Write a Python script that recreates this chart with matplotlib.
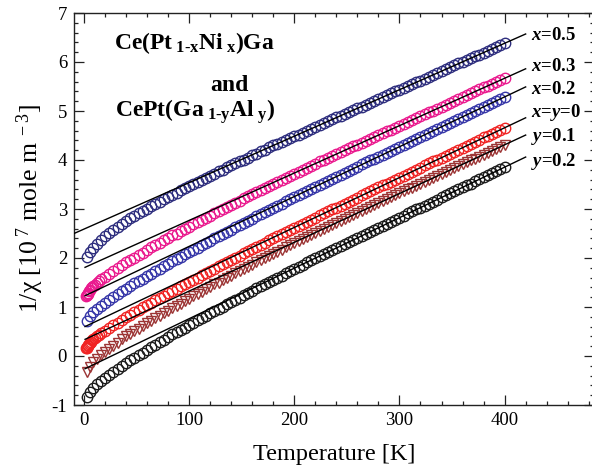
import numpy as np
import matplotlib
matplotlib.use("Agg")
import matplotlib.pyplot as plt
from matplotlib.ticker import MultipleLocator, FormatStrFormatter

plt.rcParams['font.family'] = ['Liberation Serif', 'DejaVu Serif']
plt.rcParams['mathtext.fontset'] = 'custom'
plt.rcParams['mathtext.rm'] = 'Liberation Serif'
plt.rcParams['mathtext.it'] = 'Liberation Serif:italic'
plt.rcParams['mathtext.bf'] = 'Liberation Serif:bold'
plt.rcParams['mathtext.bfit'] = 'Liberation Serif:italic:bold'
plt.rcParams['axes.unicode_minus'] = False

# ---------------- data ----------------
series_names = ["x=0.5", "x=0.3", "x=0.2", "x=y=0", "y=0.1", "y=0.2"]
series_labels = [r"$\mathbfit{x}$=0.5", r"$\mathbfit{x}$=0.3", r"$\mathbfit{x}$=0.2",
                 r"$\mathbfit{x}$=$\mathbfit{y}$=0", r"$\mathbfit{y}$=0.1", r"$\mathbfit{y}$=0.2"]
colors = ["#2e2e7e", "#ea1a8e", "#3636a8", "#f02424", "#9c3434", "#1c1c1c"]
markers = ["o", "o", "o", "o", "v", "o"]

# common temperature grid above 20 K
T_high = np.arange(20, 401, 4)

# low temperature points (K) for each series
T_low_sparse = [3, 6, 9, 12, 16]
T_low_dense = [2, 2.5, 3, 3.5, 4, 5, 6, 7, 8, 9, 10, 12, 14, 16]

x05_low = [2.03, 2.12, 2.21, 2.28, 2.37]
x05_high = [2.44, 2.51, 2.57, 2.64, 2.69, 2.75, 2.81, 2.86, 2.91, 2.96,
            3.01, 3.06, 3.11, 3.15, 3.20, 3.24, 3.29, 3.33, 3.38, 3.42,
            3.46, 3.51, 3.55, 3.60, 3.64, 3.68, 3.72, 3.77, 3.80, 3.85,
            3.89, 3.93, 3.97, 4.01, 4.05, 4.10, 4.13, 4.18, 4.21, 4.26,
            4.30, 4.33, 4.37, 4.41, 4.45, 4.49, 4.52, 4.56, 4.60, 4.64,
            4.68, 4.71, 4.75, 4.79, 4.83, 4.87, 4.90, 4.94, 4.98, 5.02,
            5.06, 5.09, 5.13, 5.17, 5.21, 5.24, 5.28, 5.32, 5.36, 5.40,
            5.43, 5.47, 5.51, 5.55, 5.59, 5.62, 5.66, 5.70, 5.74, 5.78,
            5.81, 5.85, 5.89, 5.93, 5.97, 6.00, 6.04, 6.08, 6.12, 6.15,
            6.19, 6.23, 6.27, 6.31, 6.34, 6.38]

x03_low = [1.22, 1.24, 1.25, 1.27, 1.29, 1.32, 1.35, 1.38, 1.40, 1.43, 1.45, 1.50, 1.53, 1.57]
x03_high = [1.62, 1.68, 1.74, 1.80, 1.85, 1.91, 1.96, 2.01, 2.06, 2.11,
            2.16, 2.22, 2.27, 2.31, 2.36, 2.41, 2.46, 2.50, 2.55, 2.60,
            2.64, 2.69, 2.73, 2.78, 2.82, 2.86, 2.91, 2.95, 3.00, 3.04,
            3.09, 3.13, 3.17, 3.22, 3.26, 3.30, 3.34, 3.39, 3.43, 3.47,
            3.51, 3.56, 3.59, 3.64, 3.68, 3.72, 3.76, 3.80, 3.84, 3.88,
            3.92, 3.97, 4.00, 4.04, 4.08, 4.12, 4.16, 4.20, 4.24, 4.28,
            4.31, 4.35, 4.39, 4.43, 4.47, 4.51, 4.55, 4.59, 4.62, 4.66,
            4.70, 4.74, 4.78, 4.82, 4.86, 4.89, 4.93, 4.97, 5.01, 5.05,
            5.09, 5.13, 5.17, 5.20, 5.24, 5.28, 5.32, 5.36, 5.40, 5.44,
            5.48, 5.51, 5.55, 5.59, 5.63, 5.67]

x02_low = [0.72, 0.81, 0.89, 0.96, 1.03]
x02_high = [1.08, 1.15, 1.20, 1.26, 1.32, 1.37, 1.43, 1.48, 1.53, 1.58,
            1.63, 1.68, 1.74, 1.78, 1.83, 1.88, 1.93, 1.98, 2.02, 2.08,
            2.12, 2.17, 2.21, 2.26, 2.31, 2.35, 2.40, 2.45, 2.49, 2.54,
            2.58, 2.63, 2.67, 2.72, 2.76, 2.80, 2.85, 2.90, 2.94, 2.98,
            3.02, 3.07, 3.11, 3.16, 3.20, 3.24, 3.28, 3.32, 3.37, 3.41,
            3.45, 3.50, 3.54, 3.58, 3.62, 3.66, 3.70, 3.74, 3.78, 3.82,
            3.86, 3.91, 3.95, 3.99, 4.03, 4.07, 4.11, 4.15, 4.19, 4.23,
            4.27, 4.31, 4.35, 4.39, 4.43, 4.47, 4.52, 4.56, 4.60, 4.64,
            4.68, 4.72, 4.76, 4.80, 4.84, 4.88, 4.92, 4.96, 5.00, 5.04,
            5.09, 5.13, 5.17, 5.21, 5.25, 5.29]

xy0_low = [0.16, 0.17, 0.19, 0.20, 0.22, 0.25, 0.27, 0.29, 0.32, 0.34, 0.36, 0.40, 0.43, 0.47]
xy0_high = [0.51, 0.57, 0.63, 0.68, 0.74, 0.79, 0.84, 0.89, 0.94, 0.99,
            1.04, 1.09, 1.14, 1.18, 1.23, 1.28, 1.33, 1.37, 1.42, 1.47,
            1.51, 1.56, 1.60, 1.65, 1.69, 1.74, 1.78, 1.83, 1.87, 1.92,
            1.96, 2.01, 2.05, 2.10, 2.14, 2.18, 2.23, 2.27, 2.31, 2.36,
            2.40, 2.44, 2.48, 2.53, 2.57, 2.62, 2.66, 2.70, 2.74, 2.78,
            2.82, 2.87, 2.91, 2.95, 2.99, 3.03, 3.07, 3.11, 3.15, 3.19,
            3.23, 3.28, 3.32, 3.36, 3.40, 3.44, 3.48, 3.52, 3.56, 3.60,
            3.64, 3.68, 3.72, 3.76, 3.80, 3.84, 3.89, 3.93, 3.97, 4.01,
            4.05, 4.09, 4.13, 4.17, 4.21, 4.25, 4.29, 4.33, 4.37, 4.41,
            4.46, 4.50, 4.54, 4.58, 4.62, 4.66]

y01_low = [-0.33, -0.22, -0.13, -0.06, 0.03]
y01_high = [0.08, 0.15, 0.21, 0.27, 0.34, 0.40, 0.45, 0.51, 0.56, 0.61,
            0.67, 0.72, 0.78, 0.82, 0.88, 0.92, 0.98, 1.03, 1.07, 1.13,
            1.17, 1.22, 1.27, 1.31, 1.36, 1.41, 1.46, 1.50, 1.55, 1.60,
            1.64, 1.69, 1.73, 1.78, 1.82, 1.86, 1.91, 1.96, 2.00, 2.05,
            2.09, 2.13, 2.17, 2.22, 2.26, 2.31, 2.35, 2.39, 2.43, 2.47,
            2.51, 2.56, 2.60, 2.64, 2.68, 2.72, 2.76, 2.80, 2.84, 2.88,
            2.92, 2.96, 3.00, 3.04, 3.08, 3.12, 3.16, 3.20, 3.24, 3.28,
            3.32, 3.36, 3.40, 3.43, 3.47, 3.51, 3.55, 3.59, 3.63, 3.67,
            3.71, 3.75, 3.79, 3.83, 3.87, 3.91, 3.95, 3.99, 4.03, 4.07,
            4.11, 4.15, 4.19, 4.23, 4.27, 4.31]

y02_low = [-0.83, -0.74, -0.65, -0.58, -0.50]
y02_high = [-0.45, -0.38, -0.32, -0.26, -0.20, -0.14, -0.09, -0.04, 0.02, 0.07,
            0.13, 0.18, 0.23, 0.28, 0.33, 0.38, 0.44, 0.48, 0.53, 0.58,
            0.63, 0.68, 0.73, 0.77, 0.82, 0.87, 0.92, 0.96, 1.01, 1.06,
            1.11, 1.15, 1.19, 1.24, 1.29, 1.33, 1.38, 1.43, 1.47, 1.51,
            1.56, 1.60, 1.64, 1.69, 1.73, 1.78, 1.82, 1.86, 1.91, 1.95,
            1.99, 2.04, 2.08, 2.12, 2.16, 2.20, 2.25, 2.29, 2.33, 2.37,
            2.41, 2.45, 2.49, 2.53, 2.58, 2.62, 2.66, 2.70, 2.74, 2.78,
            2.82, 2.86, 2.91, 2.95, 2.99, 3.03, 3.07, 3.11, 3.15, 3.19,
            3.24, 3.28, 3.32, 3.36, 3.40, 3.44, 3.48, 3.52, 3.57, 3.61,
            3.65, 3.69, 3.73, 3.77, 3.81, 3.85]

low_T = [T_low_sparse, T_low_dense, T_low_sparse, T_low_dense, T_low_sparse, T_low_sparse]
low_vals = [x05_low, x03_low, x02_low, xy0_low, y01_low, y02_low]
high_vals = [x05_high, x03_high, x02_high, xy0_high, y01_high, y02_high]

# Curie-Weiss straight-line fits: intercept at T=0, slope per K, T range
fit_intercept = [2.59, 1.80, 1.22, 0.59, 0.33, -0.27]
fit_slope = [0.00948, 0.00967, 0.01017, 0.01017, 0.00995, 0.01031]
fit_Tmin = [-10, 1, 1, 1, 1, 1]
fit_Tmax = [420, 420, 420, 420, 420, 420]

# label positions on the right
label_T = 425
label_v = [6.55, 5.90, 5.43, 4.96, 4.47, 3.96]

# ---------------- figure ----------------
fig = plt.figure(figsize=(5.92, 4.71), dpi=100)
ax = fig.add_axes([74 / 592, 1 - 405 / 471, 520 / 592, 392 / 471])

for i in range(6):
    T = np.concatenate([np.array(low_T[i], dtype=float), T_high])
    v = np.concatenate([np.array(low_vals[i]), np.array(high_vals[i])])
    assert len(T) == len(v), series_names[i]
    ax.plot(T, v, linestyle='none', marker=markers[i], markersize=7.5,
            markerfacecolor='none', markeredgecolor=colors[i], markeredgewidth=1.0,
            zorder=2)
    tt = np.array([fit_Tmin[i], fit_Tmax[i]], dtype=float)
    ax.plot(tt, fit_intercept[i] + fit_slope[i] * tt, color='black', lw=1.0, zorder=3)
    ax.text(label_T, label_v[i], series_labels[i], fontsize=13.5, fontweight='bold',
            ha='left', va='center', zorder=4)

# compound names
ax.text(104.8, 6.27, "Ce(Pt$_{\\ \\mathbf{1\u2010x}}$Ni$_{\\ \\mathbf{x}}$)Ga", fontsize=17,
        fontweight='bold', ha='center', va='baseline')
ax.text(138, 5.41, "and", fontsize=17, fontweight='bold', ha='center', va='baseline')
ax.text(105.7, 4.88, "CePt(Ga$_{\\ \\mathbf{1\u2010y}}$Al$_{\\ \\mathbf{y}}$)", fontsize=17,
        fontweight='bold', ha='center', va='baseline')

ax.set_xlim(-9.5, 485)
ax.set_ylim(-1, 7)
ax.xaxis.set_major_locator(MultipleLocator(100))
ax.xaxis.set_minor_locator(MultipleLocator(20))
ax.yaxis.set_major_locator(MultipleLocator(1))
ax.yaxis.set_minor_locator(MultipleLocator(0.2))
ax.yaxis.set_major_formatter(FormatStrFormatter('%d'))
ax.set_xticks([0, 100, 200, 300, 400])
ax.tick_params(which='both', direction='in', top=True, right=True, width=0.9,
               color='#222222')
ax.tick_params(which='major', length=7, labelsize=13.5, pad=5)
ax.tick_params(which='minor', length=3)
for s in ax.spines.values():
    s.set_linewidth(1.0)
    s.set_color('#222222')

ax.set_xlabel("Temperature [K]", fontsize=17.5, labelpad=11)
ax.set_ylabel(r"1/χ [10$^{\ 7}$ mole m$^{\ -3}$]", fontsize=18.5, labelpad=4)

fig.savefig("out.png", dpi=100)
